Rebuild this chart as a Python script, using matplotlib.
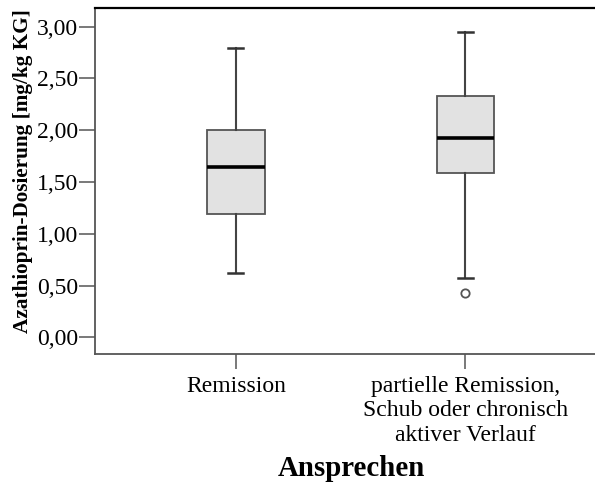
import matplotlib
matplotlib.use("Agg")
import matplotlib.pyplot as plt
from matplotlib.ticker import FuncFormatter

# Gruppen und Kennwerte der Boxplots (mg/kg KG)
categories = ["Remission",
              "partielle Remission,\nSchub oder chronisch\naktiver Verlauf"]
whisker_low = [0.62, 0.575]
q1 = [1.19, 1.585]
median = [1.645, 1.925]
q3 = [2.00, 2.33]
whisker_high = [2.79, 2.945]
outliers = [[], [0.425]]

yticks = [0.0, 0.5, 1.0, 1.5, 2.0, 2.5, 3.0]

plt.rcParams["font.family"] = ["Liberation Serif", "DejaVu Serif"]

fig = plt.figure(figsize=(5.95, 4.84), dpi=100)
W, H = 595, 484
left_px, right_px, top_px, bottom_px = 95.3, 606.0, 8.3, 354.0
ax = fig.add_axes([left_px / W, 1 - bottom_px / H,
                   (right_px - left_px) / W, (bottom_px - top_px) / H])

stats = []
for i in range(len(categories)):
    stats.append(dict(whislo=whisker_low[i], q1=q1[i], med=median[i],
                      q3=q3[i], whishi=whisker_high[i], fliers=outliers[i]))

ax.bxp(stats, positions=[1, 2], widths=0.25, capwidths=0.065,
       patch_artist=True, showfliers=True,
       boxprops=dict(facecolor="#e2e2e2", edgecolor="#555555", linewidth=1.3),
       medianprops=dict(color="black", linewidth=2.6, solid_capstyle="butt"),
       whiskerprops=dict(color="#444444", linewidth=1.5),
       capprops=dict(color="#333333", linewidth=1.8),
       flierprops=dict(marker="o", markersize=6, markerfacecolor="white",
                       markeredgecolor="#555555", markeredgewidth=1.3))

ax.set_xlim(0.388, 2.612)
ax.set_ylim(-0.161, 3.178)
ax.set_yticks(yticks)
ax.yaxis.set_major_formatter(FuncFormatter(lambda v, p: f"{v:.2f}".replace(".", ",")))
ax.set_xticks([1, 2])
ax.set_xticklabels(categories, linespacing=1.2)

ax.tick_params(axis="y", length=11.5, width=1.1, color="#555555", pad=1,
               labelsize=17, labelcolor="black")
ax.tick_params(axis="x", length=11, width=1.1, color="#555555", pad=5,
               labelsize=17, labelcolor="black")

for side in ["left", "bottom"]:
    ax.spines[side].set_color("#555555")
    ax.spines[side].set_linewidth(1.3)
ax.spines["top"].set_color("black")
ax.spines["top"].set_linewidth(1.6)
ax.spines["right"].set_visible(False)

fig.text(23 / W, 1 - 171 / H, "Azathioprin-Dosierung [mg/kg KG]",
         rotation=90, ha="center", va="center", fontsize=15.3,
         fontweight="bold")
fig.text(351 / W, 1 - 469 / H, "Ansprechen", ha="center", va="center",
         fontsize=20.8, fontweight="bold")

fig.savefig("out.png", dpi=100)
